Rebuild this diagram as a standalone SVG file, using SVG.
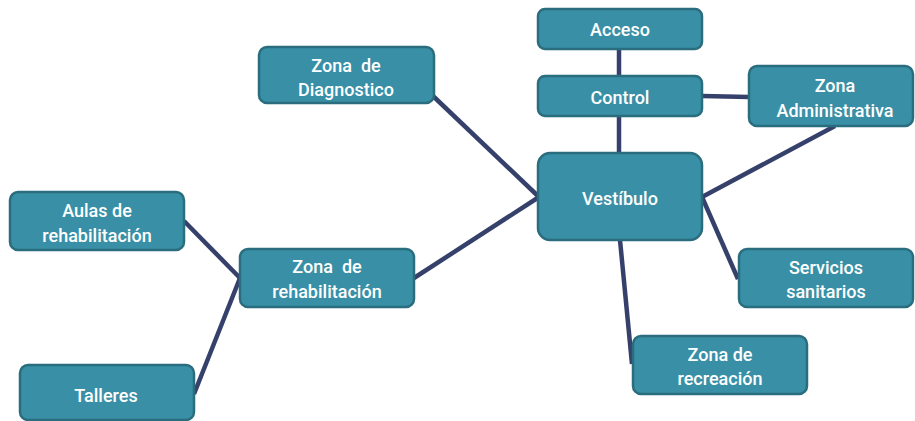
<svg xmlns="http://www.w3.org/2000/svg" width="915" height="421" viewBox="0 0 915 421">
<style>
.n{fill:#3990A6;stroke:#2A6D7E;stroke-width:2.5}
.t{font-family:Roboto,"Liberation Sans",Arial,sans-serif;font-size:18px;font-weight:500;fill:#fff;text-anchor:middle;white-space:pre}
.c{stroke:#36416B;stroke-width:4.5;fill:none;stroke-linecap:butt}
</style>
<rect width="915" height="421" fill="#fff"/>
<g id="connectors">
<line class="c" x1="619" y1="49" x2="619" y2="76"/>
<line class="c" x1="619" y1="116" x2="619" y2="153"/>
<line class="c" x1="702" y1="96" x2="749" y2="97"/>
<line class="c" x1="835" y1="126" x2="702" y2="197"/>
<line class="c" x1="702" y1="197" x2="738" y2="279"/>
<line class="c" x1="620" y1="240" x2="632" y2="364"/>
<line class="c" x1="433" y1="96" x2="539" y2="197"/>
<line class="c" x1="539" y1="197" x2="414" y2="278"/>
<line class="c" x1="184" y1="221" x2="240" y2="278"/>
<line class="c" x1="194" y1="394" x2="240" y2="278"/>
</g>
<g id="acceso"><rect class="n" x="538" y="9" width="164" height="40" rx="7"/><text class="t" x="620" y="36">Acceso</text></g>
<g id="control"><rect class="n" x="538" y="76" width="164" height="40" rx="7"/><text class="t" x="620" y="104">Control</text></g>
<g id="admin"><rect class="n" x="749" y="66" width="164" height="60" rx="8"/><text class="t" x="835" y="92">Zona</text><text class="t" x="835" y="117">Administrativa</text></g>
<g id="vestibulo"><rect class="n" x="538" y="153" width="164" height="87" rx="12"/><text class="t" x="620" y="205">Vestíbulo</text></g>
<g id="servicios"><rect class="n" x="739" y="249" width="174" height="58" rx="8"/><text class="t" x="826" y="274">Servicios</text><text class="t" x="826" y="298">sanitarios</text></g>
<g id="recreacion"><rect class="n" x="633" y="336" width="174" height="58" rx="8"/><text class="t" x="720" y="361">Zona de</text><text class="t" x="720" y="385">recreación</text></g>
<g id="diagnostico"><rect class="n" x="259" y="47" width="175" height="56" rx="8"/><text class="t" x="346" y="72">Zona  de</text><text class="t" x="346" y="96">Diagnostico</text></g>
<g id="rehabilitacion"><rect class="n" x="240" y="249" width="174" height="58" rx="8"/><text class="t" x="327" y="273">Zona  de</text><text class="t" x="327" y="298">rehabilitación</text></g>
<g id="aulas"><rect class="n" x="10" y="192" width="174" height="58" rx="8"/><text class="t" x="97" y="217">Aulas de</text><text class="t" x="97" y="242">rehabilitación</text></g>
<g id="talleres"><rect class="n" x="20" y="365" width="174" height="55" rx="8"/><text class="t" x="106" y="402">Talleres</text></g>
</svg>
